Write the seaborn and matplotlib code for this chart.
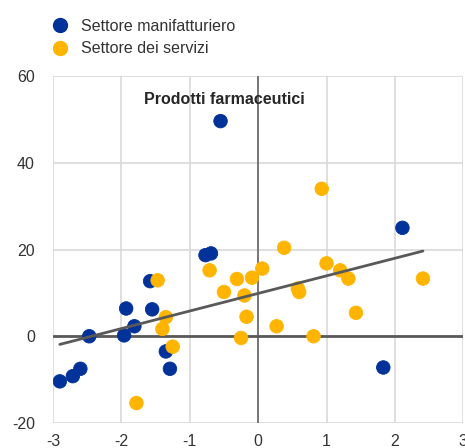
import numpy as np
import pandas as pd
import seaborn as sns
import matplotlib
matplotlib.use("Agg")
import matplotlib.pyplot as plt
from matplotlib.lines import Line2D

# ---- data ----
manuf_x = [-0.55, -2.90, -2.71, -2.60, -2.47, -1.96, -1.81, -1.93, -1.55, -1.58,
           -0.77, -0.69, -1.35, -1.29, 1.83, 2.11]
manuf_y = [49.6, -10.4, -9.2, -7.5, 0.0, 0.2, 2.3, 6.4, 6.2, 12.7,
           18.7, 19.1, -3.5, -7.5, -7.2, 25.0]
serv_x = [-1.47, -0.71, -0.50, -0.31, -0.09, 0.06, -0.20, -0.17, 0.38, 0.93,
          1.00, 0.58, 0.60, 1.20, 1.32, 1.43, 2.41, -0.25, 0.27, 0.81,
          -1.78, -1.40, -1.35, -1.25]
serv_y = [12.9, 15.2, 10.2, 13.2, 13.5, 15.6, 9.4, 4.5, 20.4, 34.0,
          16.8, 11.0, 10.2, 15.2, 13.3, 5.4, 13.3, -0.4, 2.3, 0.0,
          -15.4, 1.7, 4.4, -2.4]
series = ["Settore manifatturiero", "Settore dei servizi"]
colors = ["#003299", "#FFB400"]
x_ticks = [-3, -2, -1, 0, 1, 2, 3]
y_ticks = [-20, 0, 20, 40, 60]
annot_text = "Prodotti farmaceutici"

df = pd.DataFrame({
    "x": manuf_x + serv_x,
    "y": manuf_y + serv_y,
    "settore": [series[0]] * len(manuf_x) + [series[1]] * len(serv_x),
})

sns.set_theme(style="white")
plt.rcParams["font.family"] = ["Liberation Sans", "DejaVu Sans"]
plt.rcParams["axes.unicode_minus"] = False

fig = plt.figure(figsize=(4.65, 4.48), dpi=100)
ax = fig.add_axes([53 / 465, 25 / 448, (463.3 - 53) / 465, (423 - 76) / 448])

ax.set_xlim(-3, 3)
ax.set_ylim(-20, 60)
ax.set_xticks(x_ticks)
ax.set_yticks(y_ticks)
ax.grid(True, color="#d9d9d9", linewidth=1.2)
ax.set_axisbelow(True)
for s in ax.spines.values():
    s.set_visible(False)

ax.axhline(0, color="#595959", linewidth=2, zorder=1.5)
ax.axvline(0, color="#595959", linewidth=1.1, zorder=1.5)

sns.scatterplot(data=df, x="x", y="y", hue="settore", palette=colors,
                hue_order=series, s=95, linewidth=0.6,
                edgecolor=None, legend=False, ax=ax, zorder=3)
for coll in ax.collections:
    coll.set_edgecolors(coll.get_facecolors())

sns.regplot(data=df, x="x", y="y", scatter=False, ci=None, truncate=True,
            line_kws={"color": "#595959", "linewidth": 2, "zorder": 4}, ax=ax)

ax.set_xlabel("")
ax.set_ylabel("")
ax.tick_params(axis="both", labelsize=11.5, colors="#333333", length=0)
ax.tick_params(axis="x", pad=8)
ax.tick_params(axis="y", pad=13)

ax.text(-0.5, 54.6, annot_text, ha="center", va="center", fontsize=11.5,
        fontweight="bold", color="#262626", zorder=5)

handles = [Line2D([], [], marker="o", linestyle="", markersize=10,
                  markerfacecolor=c, markeredgecolor=c) for c in colors]
fig.legend(handles, series, loc="upper left", bbox_to_anchor=(50 / 465, 1 - 19 / 448),
           frameon=False, fontsize=11.5, handletextpad=0.75, labelspacing=0.45,
           borderaxespad=0, borderpad=0, handlelength=1.2, labelcolor="#333333")

fig.savefig("out.png", dpi=100)
